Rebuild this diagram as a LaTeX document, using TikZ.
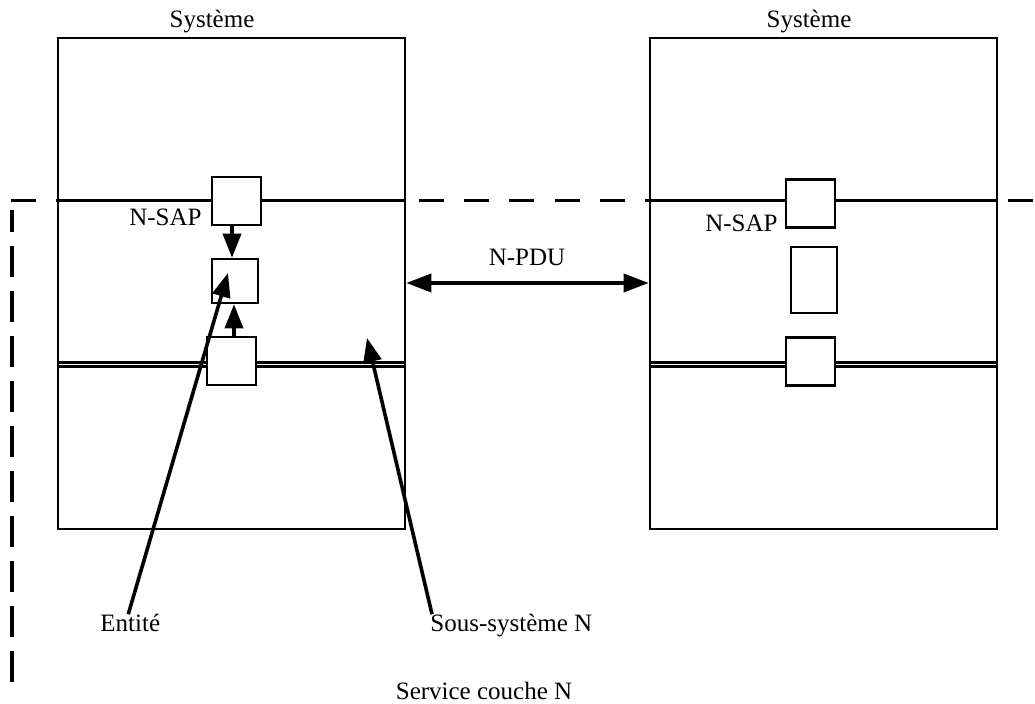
\documentclass[tikz,border=0pt]{standalone}
\usepackage{fontspec}
\setmainfont{Liberation Serif}
\usetikzlibrary{arrows.meta}
\begin{document}
\begin{tikzpicture}[x=0.5pt,y=-0.5pt,
  sysbox/.style={draw,line width=1.3pt,fill=white,inner sep=0pt,
    minimum width=173.5pt,minimum height=245.5pt},
  sapbox/.style={draw,line width=1.3pt,fill=white,inner sep=0pt,
    minimum width=24.5pt,minimum height=24pt},
  entbox/.style={draw,line width=1.3pt,fill=white,inner sep=0pt,
    minimum width=23pt,minimum height=22pt},
  lbl/.style={inner sep=0pt,font=\fontsize{12.5}{14}\selectfont},
  con/.style={line width=1.8pt,-{Triangle[length=12pt,width=9pt]}},
  pdu/.style={line width=1.8pt,{Triangle[length=12.5pt,width=9pt]}-{Triangle[length=12.5pt,width=9pt]}},
  layer/.style={dash pattern=on 12.5pt off 10.15pt,line width=1.7pt},
  svc/.style={dash pattern=on 15.5pt off 7pt,dash phase=4.5pt,line width=1.7pt}]
\useasboundingbox (0,0) rectangle (1035,704);

% boundary of layer N (behind the systems)
\draw[layer] (11,200.5) -- (1035,200.5);
\draw[svc] (12,210) -- (12,683);

% the two open systems
\node[sysbox] (sysL) at (231.5,283.5) {};
\node[sysbox] (sysR) at (823.5,283.5) {};

% layer separations inside each system
\foreach \s in {sysL,sysR}{
  \draw[line width=1.2pt] (\s.west |- 0,200.5) -- (\s.east |- 0,200.5);
  \draw[line width=1.7pt] (\s.west |- 0,362.8) -- (\s.east |- 0,362.8);
  \draw[line width=1.3pt] (\s.west |- 0,366.6) -- (\s.east |- 0,366.6);
}

% access points and entities
\node[sapbox] (sapL) at (236.5,201) {};
\node[entbox] (entL) at (235,281) {};
\node[sapbox] (lowL) at (231.5,361) {};
\node[sapbox] (sapR) at (810.5,203.5) {};
\node[draw,line width=1.3pt,fill=white,inner sep=0pt,minimum width=23pt,minimum height=33pt] (entR) at (814,280) {};
\node[sapbox] (lowR) at (810.5,361.5) {};

% labels
\node[lbl,anchor=base] (tL) at (212,28) {Système};
\node[lbl,anchor=base] (tR) at (809,28) {Système};
\node[lbl,anchor=base east] (nsapL) at (202,226) {N-SAP};
\node[lbl,anchor=base east] (nsapR) at (778,232) {N-SAP};
\node[lbl,anchor=base] (npdu) at (527,266) {N-PDU};
\node[lbl,anchor=base west] (ent) at (100,632) {Entité};
\node[lbl,anchor=base west] (ss) at (430,632) {Sous-système N};
\node[lbl,anchor=base] (svc) at (484,700) {Service couche N};

% connectors
\coordinate (xa) at (232,0);
\coordinate (xb) at (234,0);
\coordinate (ypdu) at (0,283);
\coordinate (entTip) at (228,273);
\coordinate (ssTip) at (367,338);
\draw[con] (sapL.south -| xa) -- (entL.north -| xa);
\draw[con] (lowL.north -| xb) -- (entL.south -| xb);
\draw[pdu] (sysL.east |- ypdu) -- (sysR.west |- ypdu);
\draw[con] ([xshift=-1pt]ent.north) -- (entTip);
\draw[con] ([xshift=1pt]ss.north west) -- (ssTip);
\end{tikzpicture}
\end{document}
